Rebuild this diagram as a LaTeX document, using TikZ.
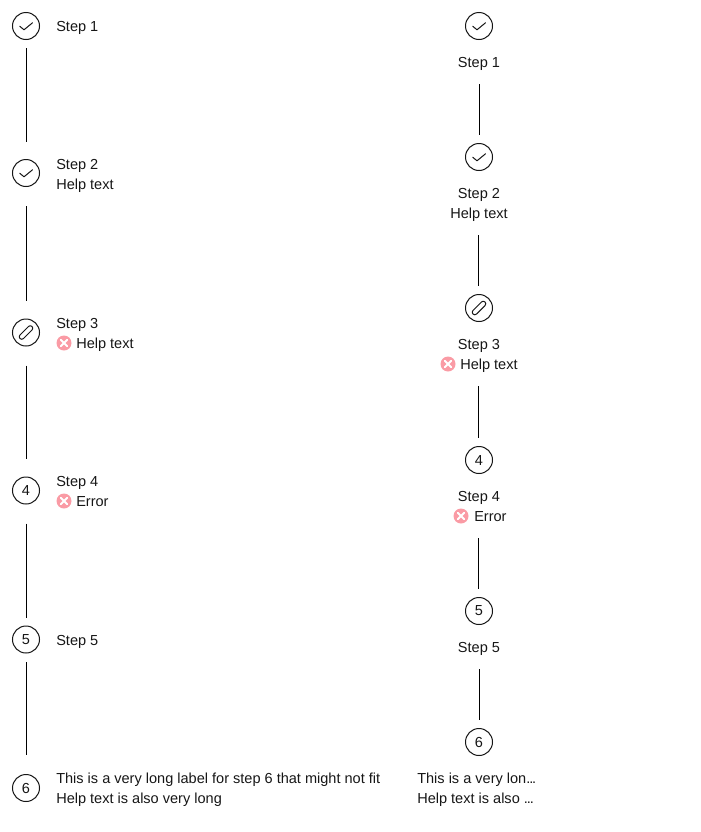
\documentclass[tikz,border=0pt]{standalone}
\usepackage{fontspec}
\setmainfont{Liberation Sans}
\definecolor{ink}{HTML}{161616}
\definecolor{errpink}{HTML}{FA9BA5}
\newcommand{\okmark}[1]{\draw[thin mark] ([shift={(-6.3,0.2)}]#1.center) -- ([shift={(-2,3.8)}]#1.center) -- ([shift={(6.5,-3.2)}]#1.center);}
\newcommand{\editmark}[1]{\begin{scope}[shift={(#1.center)},rotate=45]
\draw[thin mark,rounded corners=1.8pt] (-8.5,-2.5) rectangle (8.5,2.5);
\end{scope}}
\newcommand{\errmark}[1]{\fill[errpink] (#1) circle (7.5);
\draw[white,line width=1.5pt,line cap=round] ([shift={(-3.1,-3.1)}]#1) -- ([shift={(3.1,3.1)}]#1) ([shift={(-3.1,3.1)}]#1) -- ([shift={(3.1,-3.1)}]#1);}
\newcommand{\tightdots}{.\kern-0.8pt.\kern-0.8pt.}
\tikzset{x=0.75pt,y=-0.75pt,
 thin mark/.style={draw=ink,line width=0.75pt,line cap=round,line join=round},
 stepdot/.style={circle,draw=ink,line width=0.75pt,minimum size=27*0.75pt,inner sep=0pt,text=ink,font=\fontsize{10.9pt}{12pt}\selectfont},
 link/.style={draw=black,line width=0.75pt},
 lab/.style={anchor=base west,inner sep=0pt,text=ink,font=\fontsize{10.9pt}{12pt}\selectfont},
 labc/.style={lab,anchor=base},
}
\begin{document}
\begin{tikzpicture}
\useasboundingbox (0,0) rectangle (700,832);
% left
\node[stepdot] (a1) at (26,26) {};
\node[stepdot] (a2) at (26,173) {};
\node[stepdot] (a3) at (26,332.5) {};
\node[stepdot] (a4) at (26,490.5) {4};
\node[stepdot] (a5) at (26,639.5) {5};
\node[stepdot] (a6) at (26,788) {6};
\okmark{a1}\okmark{a2}\editmark{a3}
\draw[link] ([yshift=-6pt]a1.south) -- ([yshift=13.1pt]a2.north);
\draw[link] ([yshift=-14.6pt]a2.south) -- ([yshift=13.5pt]a3.north);
\draw[link] ([yshift=-14.25pt]a3.south) -- ([yshift=13.5pt]a4.north);
\draw[link] ([yshift=-14.25pt]a4.south) -- ([yshift=6pt]a5.north);
\draw[link] ([yshift=-6.4pt]a5.south) -- ([yshift=13.9pt]a6.north);
\node[lab] (l1) at (56,31) {Step 1};
\node[lab] (l2) at (56,169) {Step 2};
\node[lab] (l2h) at (56,189) {Help text};
\node[lab] (l3) at (56,328) {Step 3};
\coordinate (e3) at (64,343);
\errmark{e3}
\node[lab] (l3h) at (76,348) {Help text};
\node[lab] (l4) at (56,486) {Step 4};
\coordinate (e4) at (64,501);
\errmark{e4}
\node[lab] (l4h) at (76,506) {Error};
\node[lab] (l5) at (56,645) {Step 5};
\node[lab] (l6) at (56,783) {This is a very long label for step 6 that might not fit};
\node[lab] (l6h) at (56,803) {Help text is also very long};
% right
\node[stepdot] (b1) at (479,26) {};
\node[stepdot] (b2) at (479,157) {};
\node[stepdot] (b3) at (479,308) {};
\node[stepdot] (b4) at (479,460) {4};
\node[stepdot] (b5) at (479,611) {5};
\node[stepdot] (b6) at (479,742) {6};
\okmark{b1}\okmark{b2}\editmark{b3}
\node[labc] (r1) at (479,67) {Step 1};
\node[labc] (r2) at (479,198) {Step 2};
\node[labc] (r2h) at (479,218) {Help text};
\node[labc] (r3) at (479,349) {Step 3};
\coordinate (f3) at (448,364);
\errmark{f3}
\node[lab] (r3h) at (460,369) {Help text};
\node[labc] (r4) at (479,501) {Step 4};
\coordinate (f4) at (461,516);
\errmark{f4}
\node[lab] (r4h) at (474,521) {Error};
\node[labc] (r5) at (479,652) {Step 5};
\node[lab] (r6) at (417,783) {This is a very lon\tightdots};
\node[lab] (r6h) at (417,803) {Help text is also \tightdots};
\draw[link] ([yshift=-33pt]b1.south) -- ([yshift=6.1pt]b2.north);
\draw[link] ([shift={(-0.75pt,-48pt)}]b2.south) -- ([shift={(-0.75pt,6.1pt)}]b3.north);
\draw[link] ([shift={(-0.75pt,-48pt)}]b3.south) -- ([shift={(-0.75pt,6.1pt)}]b4.north);
\draw[link] ([shift={(-0.75pt,-48pt)}]b4.south) -- ([shift={(-0.75pt,6.1pt)}]b5.north);
\draw[link] ([yshift=-33pt]b5.south) -- ([yshift=6.1pt]b6.north);
\end{tikzpicture}
\end{document}
